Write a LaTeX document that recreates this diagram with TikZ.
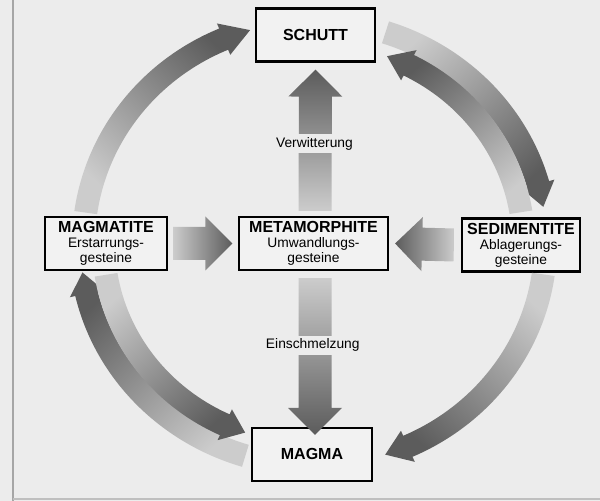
\documentclass[tikz,border=0pt]{standalone}
\usepackage{fontspec}
\setmainfont{Liberation Sans}
\usetikzlibrary{calc}
\definecolor{paper}{gray}{0.925}
\definecolor{boxfill}{gray}{0.95}
\definecolor{arrowdark}{gray}{0.36}
\definecolor{arrowlight}{gray}{0.8}
\tikzset{
  rock/.style={draw, line width=1.1pt, fill=boxfill, align=center, inner sep=1pt,
    minimum height=26.5pt, font=\fontsize{6.9}{6.4}\selectfont},
  process/.style={fill=paper, inner sep=1.5pt, font=\fontsize{6.9}{7}\selectfont},
  flow/.style={top color=arrowdark, bottom color=arrowlight, shading angle=#1},
}
\newcommand\rocktitle[1]{{\bfseries\fontsize{8}{6.4}\selectfont #1}}
\newcommand\fatarrow[3]{%
  \shade[flow=#1] let \p1=#2, \p2=#3, \n1={atan2(\y2-\y1,\x2-\x1)} in
    ($(\p1)+(\n1+90:8.25pt)$) -- ($(\p2)+(\n1:-13.5pt)+(\n1+90:8.25pt)$)
    -- ($(\p2)+(\n1:-13.5pt)+(\n1+90:13.5pt)$) -- (\p2)
    -- ($(\p2)+(\n1:-13.5pt)+(\n1-90:13.5pt)$) -- ($(\p2)+(\n1:-13.5pt)+(\n1-90:8.25pt)$)
    -- ($(\p1)+(\n1-90:8.25pt)$) -- cycle;}
\newcommand\ringarrow[6]{%
  \pgfmathsetmacro\rxo{#2+11.5}\pgfmathsetmacro\ryo{#3+11.5}%
  \pgfmathsetmacro\rxi{#2-11.5}\pgfmathsetmacro\ryi{#3-11.5}%
  \pgfmathsetmacro\rxh{#2+17}\pgfmathsetmacro\ryh{#3+17}%
  \pgfmathsetmacro\rxk{#2-17}\pgfmathsetmacro\ryk{#3-17}%
  \shade[flow=#1] ($(meta)+(xyz polar cs:angle=#4,x radius=\rxo,y radius=\ryo)$)
    arc[start angle=#4, end angle=#5, x radius=\rxo, y radius=\ryo]
    -- ($(meta)+(xyz polar cs:angle=#5,x radius=\rxh,y radius=\ryh)$)
    -- ($(meta)+(xyz polar cs:angle=#6,x radius=#2,y radius=#3)$)
    -- ($(meta)+(xyz polar cs:angle=#5,x radius=\rxk,y radius=\ryk)$)
    -- ($(meta)+(xyz polar cs:angle=#5,x radius=\rxi,y radius=\ryi)$)
    arc[start angle=#5, end angle=#4, x radius=\rxi, y radius=\ryi] -- cycle;}

\begin{document}
\begin{tikzpicture}[x=0.5pt, y=0.5pt]
\useasboundingbox[fill=paper] (0,0) rectangle (600,501);
\draw[gray!70, line width=1pt] (13,0) -- (13,501);
\draw[gray!50, line width=0.6pt] (13,2) -- (600,2);

\node[rock, minimum width=59.5pt] (schutt) at (315.5,466) {\rocktitle{SCHUTT}};
\node[rock, minimum width=74.5pt] (meta) at (313.5,257.5) {\rocktitle{METAMORPHITE}\\[1.2pt]Umwandlungs-\\gesteine};
\node[rock, minimum width=61pt] (magmatite) at (106,257.5) {\rocktitle{MAGMATITE}\\[1.2pt]Erstarrungs-\\gesteine};
\node[rock, minimum width=59pt] (sediment) at (521,256) {\rocktitle{SEDIMENTITE}\\[1.2pt]Ablagerungs-\\gesteine};
\node[rock, minimum width=60pt] (magma) at (312,46.5) {\rocktitle{MAGMA}};

\ringarrow{-42.5}{230}{222}{172}{113}{106}
\ringarrow{-138}{233}{222}{72}{15.5}{9.5}
\ringarrow{40}{210}{200}{9}{63}{69.5}
\ringarrow{43}{233}{222}{253}{193}{187.5}
\ringarrow{-138.8}{210}{200}{189}{245}{251}
\ringarrow{138.4}{232}{222}{-8}{-66}{-72}

\fatarrow{0}{($(meta.north)+(1.5,5)$)}{($(schutt.south)+(0,-7)$)}
\fatarrow{180}{($(meta.south)+(1.5,-7)$)}{($(magma.north)+(3,-8)$)}
\fatarrow{-90}{($(magmatite.east)+(5,0)$)}{($(meta.west)+(-5.5,0)$)}
\fatarrow{90}{($(sediment.west)+(-7,0)$)}{($(meta.east)+(6,0)$)}

\node[process] (verw) at ($(meta.north)!0.47!(schutt.south)$) {Verwitterung};
\node[process] (schmelz) at ($(meta.south)!0.475!(magma.north)$) {Einschmelzung};
\end{tikzpicture}
\end{document}
